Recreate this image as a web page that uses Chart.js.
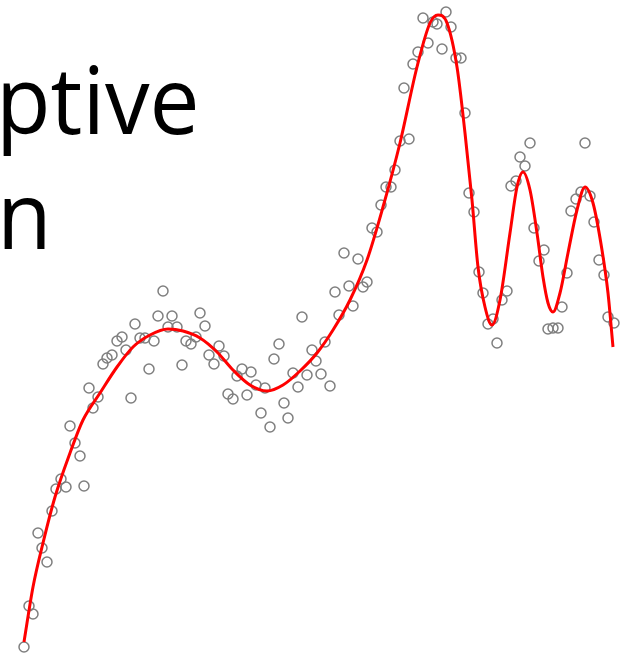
<!DOCTYPE html>
<html>
<head>
<meta charset="utf-8">
<script src="https://cdn.jsdelivr.net/npm/chart.js@4/dist/chart.umd.min.js"></script>
<style>
  html, body { margin: 0; padding: 0; background: #fff; overflow: hidden; }
  #wrap { position: relative; width: 625px; height: 654px; }
  .title { position: absolute; font-family: "Open Sans", sans-serif; font-size: 93px; color: #000; line-height: 1; white-space: nowrap; transform: scaleX(0.96); transform-origin: 0 0; }
  #t1 { left: -4px; top: 52px; }
  #t2 { left: -3px; top: 167px; }
  canvas { position: absolute; left: 0; top: 0; }
</style>
</head>
<body>
<div id="wrap">
  <div class="title" id="t1">ptive</div>
  <div class="title" id="t2">n</div>
  <canvas id="chart" width="625" height="654"></canvas>
</div>
<script>
const sampleX = [24, 29, 33, 38, 42, 47, 52, 56, 61, 66, 70, 75, 80, 84, 89, 93, 98, 103, 107, 112,
  117, 122, 126, 131, 135, 140, 145, 149, 154, 158, 163, 168, 172, 177, 182, 186, 191, 196, 200, 205,
  209, 214, 219, 224, 228, 233, 237, 242, 247, 251, 256, 261, 265, 270, 274, 279, 284, 288, 293, 298,
  302, 307, 312, 316, 321, 325, 330, 335, 339, 344, 349, 353, 358, 363, 367, 372, 377, 381, 386, 391,
  395, 400, 404, 409, 413, 418, 423, 428, 433, 437, 442, 446, 451, 456, 461, 465, 469, 474, 479, 483,
  488, 493, 497, 502, 507, 511, 516, 520, 525, 530, 534, 539, 544, 548, 553, 558, 562, 567, 571, 576,
  581, 585, 590, 594, 599, 604, 608, 614];
const sampleY = [647, 606, 614, 533, 548, 562, 511, 489, 479, 487, 426, 443, 456, 486, 388, 408, 397, 364, 358, 355,
  341, 337, 350, 398, 324, 338, 338, 369, 341, 316, 291, 327, 316, 327, 365, 341, 344, 337, 313, 326,
  355, 364, 346, 356, 394, 399, 376, 369, 395, 372, 385, 413, 388, 427, 359, 344, 403, 418, 373, 387,
  317, 375, 350, 361, 374, 342, 386, 292, 315, 253, 286, 306, 259, 287, 282, 228, 232, 205, 187, 187,
  170, 141, 88, 139, 64, 52, 18, 43, 22, 24, 49, 12, 27, 58, 58, 113, 193, 212, 272, 293,
  324, 319, 343, 300, 291, 186, 181, 157, 166, 143, 228, 261, 250, 329, 328, 328, 307, 273, 211, 199,
  192, 143, 196, 222, 260, 275, 317, 323];

// fitted curve
const fitX = [24, 33, 43, 55, 70, 83, 100, 117, 133, 150, 168, 183, 200, 217, 233, 250, 267, 283, 300, 317,
  333, 350, 367, 383, 400, 417, 430, 438, 447, 457, 465, 472, 478, 485, 492, 500, 510, 517, 523, 530,
  537, 543, 548, 553, 560, 568, 577, 585, 593, 602, 608, 613];
const fitY = [642, 587, 543, 497, 453, 420, 393, 367, 347, 335, 329, 331, 338, 352, 370, 385, 391, 385, 371, 353,
  330, 300, 260, 207, 143, 67, 23, 15, 23, 67, 133, 200, 267, 307, 325, 300, 233, 187, 172, 190,
  233, 277, 303, 312, 293, 253, 210, 187, 203, 250, 293, 347];

const samples = sampleX.map((x, i) => ({ x: x, y: sampleY[i] }));
const fit = fitX.map((x, i) => ({ x: x, y: fitY[i] }));

new Chart(document.getElementById("chart"), {
  type: "scatter",
  data: {
    datasets: [
      {
        label: "fit",
        data: fit,
        showLine: true,
        borderColor: "#ff0000",
        borderWidth: 3,
        pointRadius: 0,
        tension: 0.4,
        cubicInterpolationMode: "monotone",
        clip: false
      },
      {
        label: "samples",
        data: samples,
        pointStyle: "circle",
        pointRadius: 5,
        borderColor: "#7f7f7f",
        borderWidth: 1.5,
        backgroundColor: "rgba(0,0,0,0)",
        clip: false
      }
    ]
  },
  options: {
    responsive: false,
    animation: false,
    layout: { padding: 0, autoPadding: false },
    plugins: { legend: { display: false }, tooltip: { enabled: false } },
    scales: {
      x: { type: "linear", min: 0, max: 625, display: false },
      y: { type: "linear", min: 0, max: 654, reverse: true, display: false }
    }
  }
});
</script>
</body>
</html>
